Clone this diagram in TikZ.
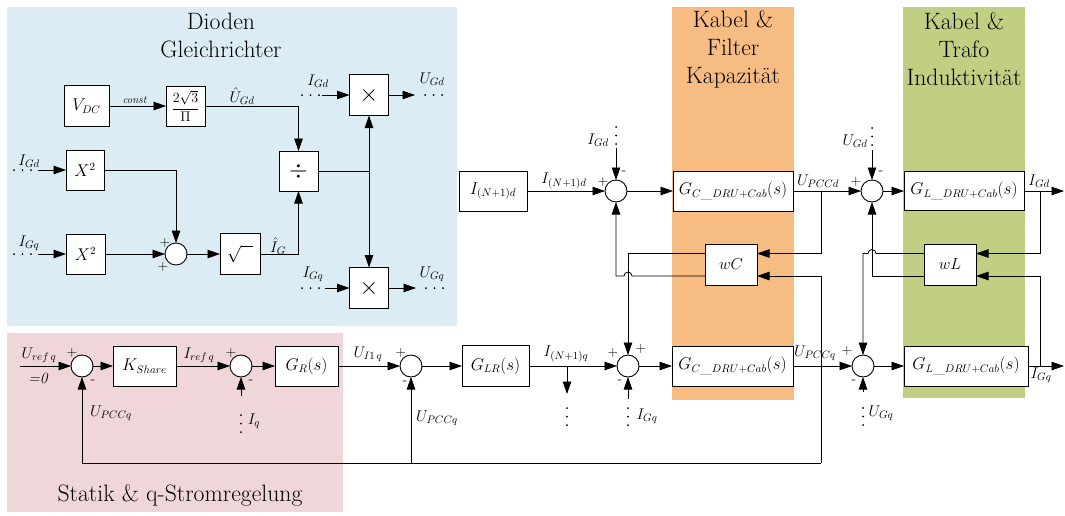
\RequirePackage{fix-cm}
\documentclass[tikz,border=0pt]{standalone}
\usetikzlibrary{arrows.meta,calc}
\DeclareMathSizes{17}{17}{11}{8}
\definecolor{bgblue}{RGB}{219,236,245}
\definecolor{bgpink}{RGB}{240,214,216}
\definecolor{bgorange}{RGB}{247,188,129}
\definecolor{bggreen}{RGB}{193,207,131}
\begin{document}
\begin{tikzpicture}[x=1pt,y=-1pt,
  every node/.style={inner sep=0pt, outer sep=0pt},
  blk/.style={draw, fill=white, line width=0.9pt, font=\fontsize{17}{20}\selectfont},
  sumc/.style={draw, fill=white, circle, minimum size=22pt, line width=0.9pt},
  arr/.style={line width=0.8pt, -{Triangle[length=12.5pt,width=8.5pt]}},
  ln/.style={line width=0.8pt},
  dotln/.style={line width=2pt, line cap=round, dash pattern=on 0pt off 8.5pt},
  lbl/.style={font=\fontsize{15.5}{18}\selectfont},
  ttl/.style={font=\fontsize{23.7}{28}\selectfont, align=center},
  sgn/.style={font=\fontsize{14}{14}\selectfont},
]
\useasboundingbox (0,0) rectangle (1065,515);
% backgrounds
\fill[bgblue] (7,7) rectangle (457,326);
\fill[bgpink] (7,333) rectangle (343,512);
\fill[bgorange] (672,7) rectangle (794,400);
\fill[bggreen] (903,7) rectangle (1025,398);
% titles
\node[ttl] (tD) at (221,35) {Dioden\\Gleichrichter};
\node[ttl] (tC) at (733,49) {Kabel \&\\Filter\\Kapazit\"at};
\node[ttl] (tL) at (964,49) {Kabel \&\\Trafo\\Induktivit\"at};
\node[ttl] (tS) at (180,495) {Statik \& q-Stromregelung};

% ---------- blue region blocks
\node[blk, minimum width=45pt, minimum height=41pt] (vdc) at (86.5,106) {$V_{DC}$};
\node[blk, minimum width=39pt, minimum height=40pt, font=\fontsize{14}{16}\selectfont] (frac) at (185.5,106) {$\displaystyle\frac{2\sqrt{3}}{\Pi}$};
\node[blk, minimum width=38pt, minimum height=40pt] (xsq1) at (85,170) {$X^2$};
\node[blk, minimum width=39pt, minimum height=40pt] (xsq2) at (85.5,254) {$X^2$};
\node[sumc] (sumA) at (176,254) {};
\node[blk, minimum width=40pt, minimum height=41pt] (sqrtb) at (240,254) {$\sqrt{\hphantom{ii}}$};
\node[blk, minimum width=39pt, minimum height=40pt, font=\fontsize{24}{24}\selectfont] (divb) at (298.5,171) {$\div$};
\node[blk, minimum width=39pt, minimum height=41pt, font=\fontsize{24}{24}\selectfont] (mul1) at (369,95) {$\times$};
\node[blk, minimum width=39pt, minimum height=41pt, font=\fontsize{24}{24}\selectfont] (mul2) at (369,288) {$\times$};

% ---------- pink / lower row
\node[sumc] (sum1) at (82,366) {};
\node[blk, minimum width=63pt, minimum height=40pt] (ksh) at (144.5,366) {$K_{Share}$};
\node[sumc] (sum2) at (241,366) {};
\node[blk, minimum width=63pt, minimum height=40pt] (gr) at (306.5,366) {$G_R(s)$};
\node[sumc] (sum3) at (411,366) {};
\node[blk, minimum width=67pt, minimum height=41pt] (glr) at (495.5,366) {$G_{LR}(s)$};
\node[sumc] (sum4) at (628,366) {};
\node[blk, minimum width=121pt, minimum height=40pt] (gc2) at (732.5,366) {$G_{C\_DRU+Cab}(s)$};
\node[sumc] (sum7) at (863,366) {};
\node[blk, minimum width=124pt, minimum height=40pt] (gl2) at (966,366) {$G_{L\_DRU+Cab}(s)$};

% ---------- upper right row
\node[blk, minimum width=68pt, minimum height=40pt] (isrc) at (493,191) {$I_{(N+1)d}$};
\node[sumc] (sumd) at (616,191) {};
\node[blk, minimum width=120pt, minimum height=40pt] (gc1) at (733,191) {$G_{C\_DRU+Cab}(s)$};
\node[sumc] (sum6) at (872,191) {};
\node[blk, minimum width=120pt, minimum height=39pt] (gl1) at (964,191) {$G_{L\_DRU+Cab}(s)$};
\node[blk, minimum width=52pt, minimum height=41pt, font=\fontsize{16}{19}\selectfont] (wc) at (731,264.5) {$wC$};
\node[blk, minimum width=52pt, minimum height=41pt, font=\fontsize{16}{19}\selectfont] (wl) at (950,264.5) {$wL$};

% ports
\coordinate (wcI1) at ($(wc.east)+(0,-11)$);
\coordinate (wcI2) at ($(wc.east)+(0,11.5)$);
\coordinate (wcO1) at ($(wc.west)+(0,-11)$);
\coordinate (wcO2) at ($(wc.west)+(0,11.5)$);
\coordinate (wlI1) at ($(wl.east)+(0,-11)$);
\coordinate (wlI2) at ($(wl.east)+(0,11.5)$);
\coordinate (wlO1) at ($(wl.west)+(0,-11)$);
\coordinate (wlO2) at ($(wl.west)+(0,11.5)$);

% ---------- blue connectors
\draw[arr] (vdc) -- (frac) node[midway, above=2pt, xshift=-3pt, font=\fontsize{11}{12}\selectfont\itshape] {const};
\draw[arr] (frac.east) -| (divb.north);
\node[lbl] at (242,96) {$\hat{U}_{Gd}$};
\draw[arr] (xsq1.east) -| (sumA.north);
\draw[arr] (xsq2) -- (sumA);
\draw[arr] (sumA) -- (sqrtb);
\draw[arr] (sqrtb.east) -| (divb.south);
\node[lbl] at (278,246) {$\hat{I}_G$};
\coordinate (jdiv) at (369,171);
\draw[ln] (divb.east) -- (jdiv);
\draw[arr] (jdiv) -- (mul1.south);
\draw[arr] (jdiv) -- (mul2.north);
\node[sgn] at (165,243) {+};
\node[sgn] at (163,267) {+};

\coordinate (inX1) at (38,170);
\coordinate (inX2) at (38,254);
\draw[arr] (inX1) -- (xsq1);
\draw[arr] (inX2) -- (xsq2);
\draw[dotln] ($(inX1)+(-24,0)$) -- ($(inX1)+(-6.5,0)$);
\draw[dotln] ($(inX2)+(-24,0)$) -- ($(inX2)+(-6.5,0)$);
\node[lbl] at (29,161) {$I_{Gd}$};
\node[lbl] at (29,243) {$I_{Gq}$};

\coordinate (inA) at (322,95);
\coordinate (inB) at (325,288);
\coordinate (outA) at (415,95);
\coordinate (outB) at (416,288);
\draw[arr] (inA) -- (mul1);
\draw[arr] (inB) -- (mul2);
\draw[arr] (mul1) -- (outA);
\draw[arr] (mul2) -- (outB);
\draw[dotln] ($(inA)+(-20,0)$) -- ($(inA)+(-2.5,0)$);
\draw[dotln] ($(inB)+(-23,0)$) -- ($(inB)+(-5.5,0)$);
\draw[dotln] ($(outA)+(10,0)$) -- ($(outA)+(27.5,0)$);
\draw[dotln] ($(outB)+(10,0)$) -- ($(outB)+(27.5,0)$);
\node[lbl] at (318,81) {$I_{Gd}$};
\node[lbl] at (313,274) {$I_{Gq}$};
\node[lbl] at (432,79) {$U_{Gd}$};
\node[lbl] at (432,274) {$U_{Gq}$};

% ---------- pink connectors
\coordinate (inU) at (20,366);
\draw[arr] (inU) -- (sum1);
\node[lbl] at (39,355) {$U_{ref\,q}$};
\node[lbl] at (38,378) {\itshape =0};
\draw[arr] (sum1) -- (ksh);
\draw[arr] (ksh) -- (sum2);
\node[lbl] at (199,355) {$I_{ref\,q}$};
\draw[arr] (sum2) -- (gr);
\draw[arr] (gr) -- (sum3);
\node[lbl] at (368,354) {$U_{I1\,q}$};
\draw[arr] (sum3) -- (glr);
\coordinate (inIq) at (241,396);
\draw[arr] (inIq) -- (sum2.south);
\draw[dotln] ($(inIq)+(0,19)$) -- ($(inIq)+(0,37.5)$);
\node[lbl] at (254,421) {$I_q$};
\node[sgn] at (72,353) {+};
\node[sgn] at (93,382) {-};
\node[sgn] at (231,353) {+};
\node[sgn] at (251,382) {-};
\node[sgn] at (401,353) {+};
\node[sgn] at (405,383) {-};

% feedback
\coordinate (fbR) at (821,463);
\coordinate (fb3) at (sum3 |- fbR);
\draw[arr] (fbR) -| (sum1.south);
\draw[arr] (fb3) -- (sum3.south);
\draw[arr] (fbR) |- (wcI2);
\node[lbl] at (111,413) {$U_{PCCq}$};
\node[lbl] at (437,418) {$U_{PCCq}$};

% ---------- lower right
\draw[arr] (glr) -- (sum4);
\node[lbl] at (566,354) {$I_{(N+1)q}$};
\coordinate (jN) at (567,366);
\coordinate (dN) at (567,394);
\draw[arr] (jN) -- (dN);
\draw[dotln] ($(dN)+(0,14)$) -- ($(dN)+(0,32.5)$);
\draw[arr] (sum4) -- (gc2);
\coordinate (inIGq) at (628,399);
\draw[arr] (inIGq) -- (sum4.south);
\draw[dotln] ($(inIGq)+(0,9)$) -- ($(inIGq)+(0,27.5)$);
\node[lbl] at (647,416) {$I_{Gq}$};
\node[sgn] at (613,353) {+};
\node[sgn] at (641,349) {+};
\node[sgn] at (620,382) {-};
\draw[arr] (gc2) -- (sum7);
\node[lbl] at (815,353) {$U_{PCCq}$};
\draw[arr] (sum7) -- (gl2);
\coordinate (inUGq) at (863,392);
\draw[arr] (inUGq) -- (sum7.south);
\draw[dotln] ($(inUGq)+(0,16)$) -- ($(inUGq)+(0,34.5)$);
\node[lbl] at (881,413) {$U_{Gq}$};
\node[sgn] at (847,351) {+};
\node[sgn] at (854,382) {-};
\coordinate (outGq) at (1064,366);
\draw[arr] (gl2) -- (outGq);
\node[lbl] at (1041,375) {$I_{Gq}$};

% ---------- upper right
\draw[arr] (isrc) -- (sumd);
\node[lbl] at (564,181) {$I_{(N+1)d}$};
\coordinate (inIGd) at (616,148);
\draw[arr] (inIGd) -- (sumd.north);
\draw[dotln] ($(inIGd)+(0,-21)$) -- ($(inIGd)+(0,-3.5)$);
\node[lbl] at (598,140) {$I_{Gd}$};
\node[sgn] at (603,182) {+};
\node[sgn] at (624,173) {-};
\draw[arr] (sumd) -- (gc1);
\draw[arr] (gc1) -- (sum6);
\node[lbl] at (818,181) {$U_{PCCd}$};
\coordinate (jd) at (821,191);
\draw[arr] (jd) |- (wcI1);
\draw[arr] (wcO1) -| (sum4.north);
\draw[arr] (wcO2) -- ($(sum4.north |- wcO2)+(4,0)$) arc[start angle=0, end angle=-180, radius=4] -| (sumd.south);
\coordinate (inUGd) at (872,150);
\draw[arr] (inUGd) -- (sum6.north);
\draw[dotln] ($(inUGd)+(0,-22)$) -- ($(inUGd)+(0,-4.5)$);
\node[lbl] at (855,141) {$U_{Gd}$};
\node[sgn] at (856,182) {+};
\node[sgn] at (881,173) {-};
\draw[arr] (sum6) -- (gl1);
\coordinate (outGd) at (1064,191);
\draw[arr] (gl1) -- (outGd);
\node[lbl] at (1039,181) {$I_{Gd}$};
\coordinate (jGd) at (1040,191);
\draw[arr] (jGd) |- (wlI1);
\coordinate (jGq) at (1040,366);
\draw[arr] (jGq) |- (wlI2);
\draw[arr] (wlO1) -- ($(sum6.south |- wlO1)+(4,0)$) arc[start angle=0, end angle=-180, radius=4] -| (sum7.north);
\draw[arr] (wlO2) -| (sum6.south);
\end{tikzpicture}
\end{document}
